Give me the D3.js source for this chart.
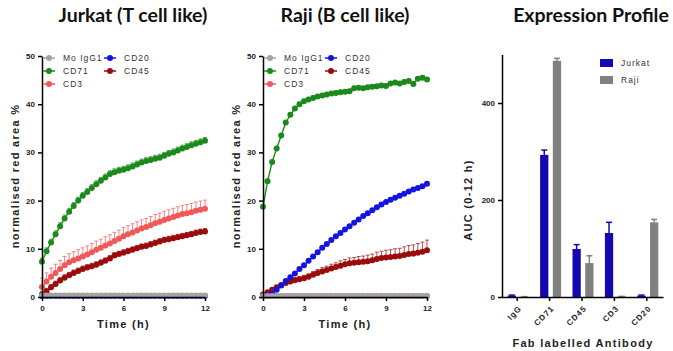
<!DOCTYPE html>
<html>
<head>
<meta charset="utf-8">
<script src="https://cdn.jsdelivr.net/npm/d3@7"></script>
<style>
  body { margin: 0; background: #fff; }
  svg { display: block; }
  .title { font-family: Lato, "Open Sans", sans-serif; font-weight: bold; font-size: 19.5px; fill: #111; }
  .tick text { font-family: "Liberation Sans", Arial, sans-serif; font-weight: bold; font-size: 8px; fill: #222; }
  .axisTitle { font-family: "Liberation Sans", Arial, sans-serif; font-weight: bold; font-size: 11px; letter-spacing: 1.3px; fill: #222; }
  .legText { font-family: "Liberation Sans", Arial, sans-serif; font-size: 8.5px; letter-spacing: 1px; fill: #333; }
</style>
</head>
<body>
<div class="chart"></div>
<script>
"use strict";

// time axis: one reading every 20 min, 0 - 12 h
var timePoints = d3.range(0, 37).map(function(i) { return i * 20 / 60; });
var timeTicks = [0, 3, 6, 9, 12];
var pctTicks = [0, 10, 20, 30, 40, 50];

var seriesNames = ["Mo IgG1", "CD71", "CD3", "CD20", "CD45"];
var seriesColors = { "Mo IgG1": "#a3a3a3", "CD71": "#1b8a1b", "CD3": "#f15858", "CD20": "#1414e0", "CD45": "#9a0b0b" };

// Jurkat (T cell like)
var jurkatIgG1 = [0.3,0.3,0.3,0.3,0.3,0.3,0.3,0.3,0.3,0.3,0.3,0.3,0.3,0.3,0.3,0.3,0.3,0.3,0.3,0.3,0.3,0.3,0.3,0.3,0.3,0.3,0.3,0.3,0.3,0.3,0.3,0.3,0.3,0.3,0.3,0.3,0.3];
var jurkatCD20 = [0.2,0.2,0.2,0.2,0.2,0.2,0.2,0.2,0.2,0.2,0.2,0.2,0.2,0.2,0.2,0.2,0.2,0.2,0.2,0.2,0.2,0.2,0.2,0.2,0.2,0.2,0.2,0.2,0.2,0.2,0.2,0.2,0.2,0.2,0.2,0.2,0.2];
var jurkatCD71 = [7.3,9.5,11.3,13.0,14.7,16.3,17.7,18.9,20.0,21.0,21.8,22.6,23.4,24.1,24.8,25.5,25.9,26.2,26.4,26.7,27.1,27.5,27.9,28.2,28.4,28.7,28.9,29.3,29.7,30.0,30.4,30.8,31.1,31.5,31.8,32.1,32.4];
var jurkatCD3  = [2.1,3.2,4.2,5.0,5.8,6.6,7.2,7.6,8.0,8.4,8.8,9.3,9.8,10.2,10.7,11.1,11.6,12.1,12.6,13.0,13.4,13.8,14.2,14.5,14.9,15.3,15.6,16.0,16.3,16.6,16.9,17.2,17.4,17.6,17.9,18.1,18.3];
var jurkatCD45 = [0.5,1.2,2.0,2.7,3.4,4.0,4.5,5.0,5.4,5.8,6.1,6.4,6.7,7.1,7.5,8.0,8.6,8.9,9.2,9.5,9.8,10.1,10.4,10.6,10.9,11.2,11.5,11.8,12.0,12.2,12.4,12.6,12.8,13.0,13.3,13.5,13.6];
var jurkatSem = { "Mo IgG1": 0.1, "CD71": 0.7, "CD3": 1.8, "CD20": 0.1, "CD45": 0.6 };

// Raji (B cell like)
var rajiIgG1 = [0.2,0.2,0.2,0.2,0.2,0.2,0.2,0.2,0.2,0.2,0.2,0.2,0.2,0.2,0.2,0.2,0.2,0.2,0.2,0.2,0.2,0.2,0.2,0.2,0.2,0.2,0.2,0.2,0.2,0.2,0.2,0.2,0.2,0.2,0.2,0.2,0.2];
var rajiCD3  = [0.2,0.2,0.2,0.2,0.2,0.2,0.2,0.2,0.2,0.2,0.2,0.2,0.2,0.2,0.2,0.2,0.2,0.2,0.2,0.2,0.2,0.2,0.2,0.2,0.2,0.2,0.2,0.2,0.2,0.2,0.2,0.2,0.2,0.2,0.2,0.2,0.2];
var rajiCD71 = [18.7,24.0,28.0,30.8,33.5,36.2,37.8,39.1,40.0,40.6,41.0,41.3,41.6,41.8,42.0,42.2,42.3,42.5,42.6,42.7,43.3,43.4,43.3,43.5,43.6,43.7,43.9,43.8,44.3,44.5,44.3,44.6,44.8,44.2,45.3,45.5,45.1];
var rajiCD20 = [0.2,0.3,0.7,1.5,2.4,3.3,4.1,4.9,5.8,6.6,7.5,8.4,9.3,10.2,11.0,11.8,12.6,13.3,14.0,14.7,15.4,16.1,16.8,17.4,18.0,18.6,19.2,19.7,20.2,20.6,21.0,21.4,21.9,22.3,22.6,23.0,23.5];
var rajiCD45 = [0.5,1.0,1.5,2.0,2.5,2.9,3.2,3.5,3.7,3.9,4.2,4.6,5.0,5.3,5.6,5.9,6.2,6.5,6.8,7.0,7.1,7.2,7.3,7.4,7.6,7.9,8.1,8.2,8.3,8.4,8.5,8.7,8.9,9.0,9.2,9.4,9.7];
var rajiCD45Sem = [0.2,0.2,0.3,0.3,0.3,0.4,0.4,0.5,0.5,0.6,0.6,0.7,0.7,0.8,0.8,0.9,0.9,1.0,1.0,1.1,1.1,1.2,1.2,1.3,1.3,1.4,1.4,1.5,1.5,1.6,1.6,1.7,1.8,1.8,1.9,2.0,2.1];
var rajiSem = { "Mo IgG1": 0.1, "CD71": 0.4, "CD3": 0.1, "CD20": 0.3, "CD45": rajiCD45Sem };

// Expression profile (AUC 0-12 h)
var antibodies = ["IgG", "CD71", "CD45", "CD3", "CD20"];
var cellLines = ["Jurkat", "Raji"];
var aucJurkat = [3, 293, 99, 132, 3];
var aucJurkatErr = [1, 10, 9, 22, 1];
var aucRaji = [0.5, 487, 70, 1, 154];
var aucRajiErr = [0.3, 5, 15, 0.3, 6];
var aucTicks = [0, 200, 400];
var barColors = { "Jurkat": "#1409b0", "Raji": "#808080" };

var svgWidth = 673, svgHeight = 351;
var svgContainer = d3.select(".chart").append("svg")
    .attr("width", svgWidth)
    .attr("height", svgHeight);

var drawOrder = ["CD71", "CD3", "CD45", "CD20", "Mo IgG1"];

function drawTimeCourse(opts)
{
    var x = d3.scaleLinear().domain([0, 12]).range([opts.left, opts.right]);
    var y = d3.scaleLinear().domain([0, 50]).range([297, 56]);

    svgContainer.append("text")
        .attr("class", "title")
        .attr("x", opts.titleX).attr("y", 22)
        .attr("text-anchor", "middle")
        .text(opts.title);

    var g = svgContainer.append("g");

    drawOrder.forEach(function(name)
    {
        var vals = opts.data[name];
        var sem = opts.sem[name];
        var col = seriesColors[name];
        var pts = vals.map(function(v, i) {
            return { t: timePoints[i], v: v, e: Array.isArray(sem) ? sem[i] : sem };
        });

        var errG = g.append("g").attr("stroke", col).attr("stroke-width", 0.9).attr("opacity", 0.8);
        pts.forEach(function(p)
        {
            if (p.e < 0.3) return;
            errG.append("line")
                .attr("x1", x(p.t)).attr("x2", x(p.t))
                .attr("y1", y(p.v)).attr("y2", y(p.v + p.e));
            errG.append("line")
                .attr("x1", x(p.t) - 2).attr("x2", x(p.t) + 2)
                .attr("y1", y(p.v + p.e)).attr("y2", y(p.v + p.e));
        });

        g.append("path")
            .datum(pts)
            .attr("fill", "none")
            .attr("stroke", col)
            .attr("stroke-width", 1.4)
            .attr("d", d3.line().x(function(d) { return x(d.t); }).y(function(d) { return y(d.v); }));

        g.selectAll(null)
            .data(pts)
            .enter()
            .append("circle")
            .attr("cx", function(d) { return x(d.t); })
            .attr("cy", function(d) { return y(d.v); })
            .attr("r", 3)
            .attr("fill", col);
    });

    svgContainer.append("g")
        .attr("transform", "translate(0,297)")
        .call(d3.axisBottom(x).tickValues(timeTicks).tickSize(4).tickSizeOuter(0).tickPadding(4))
        .call(function(a) { a.selectAll("line, path").attr("stroke", "#000").attr("stroke-width", 1.5); });

    svgContainer.append("g")
        .attr("transform", "translate(" + opts.left + ",0)")
        .call(d3.axisLeft(y).tickValues(pctTicks).tickSize(4).tickSizeOuter(0).tickPadding(3))
        .call(function(a) { a.selectAll("line, path").attr("stroke", "#000").attr("stroke-width", 1.5); });

    svgContainer.append("text")
        .attr("class", "axisTitle")
        .attr("x", (opts.left + opts.right) / 2).attr("y", 328)
        .attr("text-anchor", "middle")
        .text("Time (h)");

    svgContainer.append("text")
        .attr("class", "axisTitle")
        .attr("transform", "translate(" + (opts.left - 23) + ",176) rotate(-90)")
        .attr("text-anchor", "middle")
        .text("normalised red area %");

    // legend
    var legendPos = [[0, 0], [0, 1], [0, 2], [1, 0], [1, 1]];
    seriesNames.forEach(function(name, i)
    {
        var cx = opts.left + 7 + legendPos[i][0] * 61;
        var cy = 58 + legendPos[i][1] * 13;
        var col = seriesColors[name];
        svgContainer.append("line")
            .attr("x1", cx - 6).attr("x2", cx + 6)
            .attr("y1", cy).attr("y2", cy)
            .attr("stroke", col).attr("stroke-width", 1.5);
        svgContainer.append("circle")
            .attr("cx", cx).attr("cy", cy).attr("r", 3).attr("fill", col);
        svgContainer.append("text")
            .attr("class", "legText")
            .attr("x", cx + 14).attr("y", cy + 3)
            .text(name);
    });
}

drawTimeCourse({
    title: "Jurkat (T cell like)", titleX: 133, left: 42, right: 205,
    data: { "Mo IgG1": jurkatIgG1, "CD71": jurkatCD71, "CD3": jurkatCD3, "CD20": jurkatCD20, "CD45": jurkatCD45 },
    sem: jurkatSem
});

drawTimeCourse({
    title: "Raji (B cell like)", titleX: 345, left: 263, right: 427,
    data: { "Mo IgG1": rajiIgG1, "CD71": rajiCD71, "CD3": rajiCD3, "CD20": rajiCD20, "CD45": rajiCD45 },
    sem: rajiSem
});

// Expression profile bar chart
(function()
{
    var x0 = d3.scaleBand().domain(antibodies).range([501, 663]);
    var x1 = d3.scaleBand().domain(cellLines).range([0, 21]).paddingInner(0.35);
    var y = d3.scaleLinear().domain([0, 500]).range([297, 54.5]);
    var aucData = { "Jurkat": [aucJurkat, aucJurkatErr], "Raji": [aucRaji, aucRajiErr] };

    svgContainer.append("text")
        .attr("class", "title")
        .attr("x", 591).attr("y", 22)
        .attr("text-anchor", "middle")
        .text("Expression Profile");

    cellLines.forEach(function(line)
    {
        var vals = aucData[line][0], errs = aucData[line][1];
        var gb = svgContainer.append("g").attr("fill", barColors[line]).attr("stroke", barColors[line]);
        antibodies.forEach(function(ab, i)
        {
            var bx = x0(ab) + x0.bandwidth() / 2 - 9.5 + x1(line);
            var bw = x1.bandwidth();
            gb.append("rect")
                .attr("x", bx).attr("y", y(vals[i]))
                .attr("width", bw).attr("height", y(0) - y(vals[i]))
                .attr("stroke", "none");
            var cx = bx + bw / 2;
            gb.append("line")
                .attr("x1", cx).attr("x2", cx)
                .attr("y1", y(vals[i])).attr("y2", y(vals[i] + errs[i]))
                .attr("stroke-width", 1.5);
            gb.append("line")
                .attr("x1", cx - 3).attr("x2", cx + 3)
                .attr("y1", y(vals[i] + errs[i])).attr("y2", y(vals[i] + errs[i]))
                .attr("stroke-width", 1.5);
        });
    });

    var xAxis = svgContainer.append("g")
        .attr("transform", "translate(0,297)")
        .call(d3.axisBottom(x0).tickSize(4).tickSizeOuter(0).tickPadding(6));
    xAxis.selectAll("line, path").attr("stroke", "#000").attr("stroke-width", 1.5);
    xAxis.selectAll(".tick text")
        .attr("text-anchor", "end")
        .attr("dy", "0.35em")
        .attr("transform", "translate(3,10) rotate(-45)")
        .attr("y", 0).attr("x", 0)
        .style("letter-spacing", "1px");

    svgContainer.append("g")
        .attr("transform", "translate(502,0)")
        .call(d3.axisLeft(y).tickValues(aucTicks).tickSize(4).tickSizeOuter(0).tickPadding(3))
        .call(function(a) { a.selectAll("line, path").attr("stroke", "#000").attr("stroke-width", 1.5); });

    svgContainer.append("text")
        .attr("class", "axisTitle")
        .attr("transform", "translate(472,200) rotate(-90)")
        .attr("text-anchor", "middle")
        .text("AUC (0-12 h)");

    svgContainer.append("text")
        .attr("class", "axisTitle")
        .attr("x", 583).attr("y", 347)
        .attr("text-anchor", "middle")
        .text("Fab labelled Antibody");

    cellLines.forEach(function(line, i)
    {
        svgContainer.append("rect")
            .attr("x", 600).attr("y", 59 + i * 17)
            .attr("width", 13).attr("height", 8)
            .attr("fill", barColors[line]);
        svgContainer.append("text")
            .attr("class", "legText")
            .attr("x", 621).attr("y", 66 + i * 17)
            .text(line);
    });
})();
</script>
</body>
</html>
